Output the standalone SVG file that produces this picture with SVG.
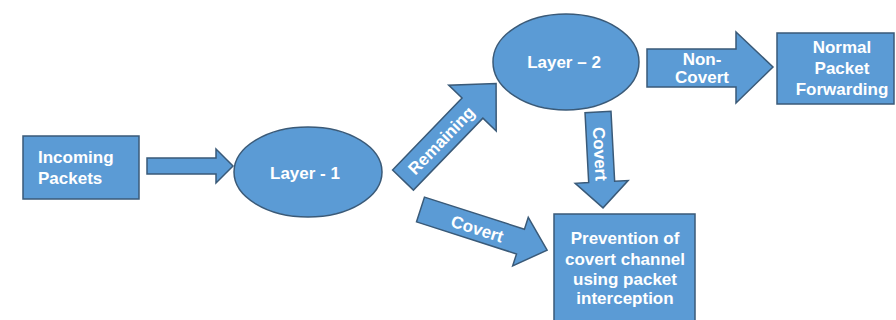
<svg xmlns="http://www.w3.org/2000/svg" width="896" height="320" viewBox="0 0 896 320">
  <style>
    .shape { fill: #5b9bd5; stroke: #3a5a78; stroke-width: 1.5; }
    .lbl { fill: #ffffff; font-family: "Liberation Sans", Arial, sans-serif; font-weight: bold; font-size: 17px; text-anchor: middle; }
    .start { text-anchor: start; }
  </style>
  <rect width="896" height="320" fill="#ffffff"/>

  <!-- Connectors: block arrows, some carrying labels -->
  <g id="connectors">
    <g id="arrow-in">
      <polygon class="shape" points="147,158 216,158 216,149 233,166 216,183 216,174 147,174"/>
    </g>
    <g id="arrow-remaining" transform="translate(403,180) rotate(-46)">
      <polygon class="shape" points="0,-14.5 100,-14.5 100,-33 134,0 100,33 100,14.5 0,14.5"/>
      <text class="lbl" x="55" y="6">Remaining</text>
    </g>
    <g id="arrow-covert-low" transform="translate(420.5,209.5) rotate(17.8)">
      <polygon class="shape" points="0,-13 105,-13 105,-25.5 133,0 105,25.5 105,13 0,13"/>
      <text class="lbl" x="60" y="7">Covert</text>
    </g>
    <g id="arrow-covert-down" transform="translate(598,112) rotate(87)">
      <polygon class="shape" points="0,-13 70,-13 70,-26.5 96,0 70,26.5 70,13 0,13"/>
      <text class="lbl" x="42" y="6">Covert</text>
    </g>
    <g id="arrow-noncovert">
      <polygon class="shape" points="647,49 736,49 736,32 773,67 736,103 736,87 647,87"/>
      <text class="lbl" x="702" y="65">Non-</text>
      <text class="lbl" x="702" y="83">Covert</text>
    </g>
  </g>

  <g id="incoming">
    <rect class="shape" x="23" y="136" width="116" height="63"/>
    <text class="lbl start" x="38" y="163">Incoming</text>
    <text class="lbl start" x="38" y="184">Packets</text>
  </g>

  <g id="layer1">
    <ellipse class="shape" cx="308" cy="172" rx="74" ry="45"/>
    <text class="lbl" x="305" y="179">Layer - 1</text>
  </g>

  <g id="layer2">
    <ellipse class="shape" cx="566" cy="62" rx="73" ry="48"/>
    <text class="lbl" x="564" y="68">Layer – 2</text>
  </g>

  <g id="forwarding">
    <rect class="shape" x="777" y="33" width="117" height="71"/>
    <text class="lbl" x="842" y="53">Normal</text>
    <text class="lbl" x="842" y="74">Packet</text>
    <text class="lbl" x="842" y="95">Forwarding</text>
  </g>

  <g id="prevention">
    <rect class="shape" x="554" y="214" width="141" height="112"/>
    <text class="lbl" x="625" y="244">Prevention of</text>
    <text class="lbl" x="625" y="265">covert channel</text>
    <text class="lbl" x="625" y="285">using packet</text>
    <text class="lbl" x="625" y="304">interception</text>
  </g>
</svg>
